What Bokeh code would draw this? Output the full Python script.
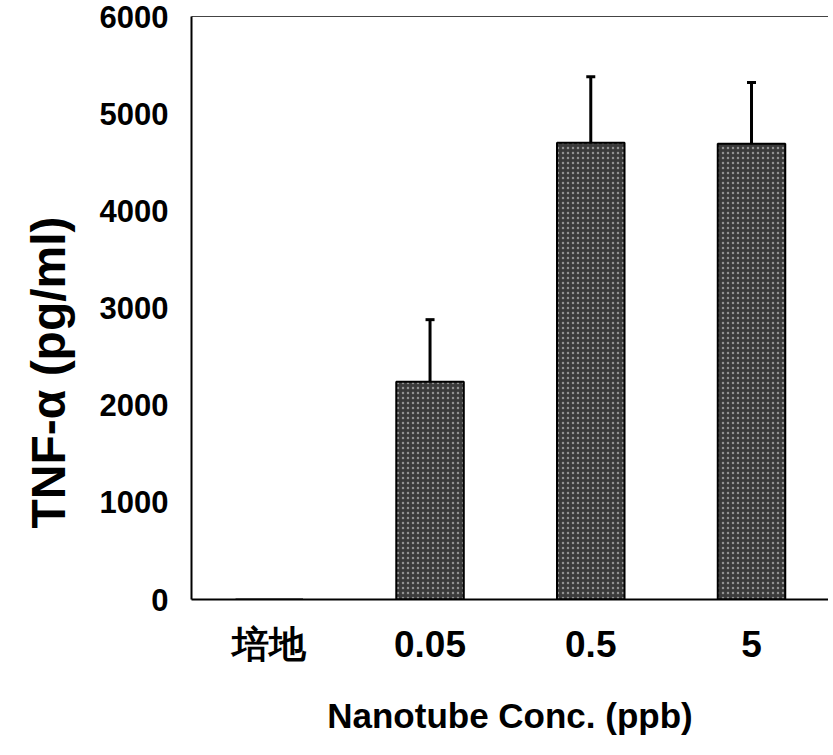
from bokeh.plotting import figure
from bokeh.models import (Range1d, FixedTicker, LinearAxis, Whisker,
                          ColumnDataSource, TeeHead, Title)
from bokeh.embed import file_html
from bokeh.resources import INLINE

# ---- data ----
categories = ["培地", "0.05", "0.5", "5"]
tnf_mean = [0, 2240, 4700, 4690]          # pg/ml
tnf_upper = [0, 2880, 5380, 5320]         # top of error bar (pg/ml)
y_ticks = [0, 1000, 2000, 3000, 4000, 5000, 6000]

x_pos = list(range(len(categories)))
bar_src = ColumnDataSource(dict(x=x_pos, top=tnf_mean))
err_idx = [i for i in x_pos if tnf_upper[i] > tnf_mean[i]]
err_src = ColumnDataSource(dict(x=[x_pos[i] for i in err_idx],
                                top=[tnf_mean[i] for i in err_idx],
                                upper=[tnf_upper[i] for i in err_idx]))

FONT = "Liberation Sans"

p = figure(width=828, height=745, output_backend="svg", toolbar_location=None,
           x_range=Range1d(-0.484, 3.479), y_range=Range1d(0, 6000),
           min_border_left=191, min_border_right=0, min_border_top=16,
           min_border_bottom=146, background_fill_color="white",
           border_fill_color="white")
p.outline_line_color = None
p.xgrid.visible = False
p.ygrid.visible = False

xa = p.below[0]
ya = p.left[0]

# top border line
top_axis = LinearAxis(ticker=FixedTicker(ticks=[]), axis_line_color="#444444",
                      axis_line_width=1, major_tick_line_color=None,
                      minor_tick_line_color=None, major_label_text_font_size="0px",
                      major_label_standoff=0, major_tick_out=0, major_tick_in=0)
p.add_layout(top_axis, "above")

p.vbar(x="x", top="top", width=0.42, source=bar_src,
       fill_color="#3a3a3a", line_color="black", line_width=2,
       hatch_pattern="dot", hatch_color="#a8a8a8", hatch_scale=5,
       hatch_weight=1.2, hatch_alpha=0.8)

whisk = Whisker(base="x", lower="top", upper="upper", source=err_src,
                line_color="black", line_width=3, lower_head=None,
                upper_head=TeeHead(size=9, line_width=3, line_color="black"))
p.add_layout(whisk)

# x axis
xa.ticker = FixedTicker(ticks=x_pos)
xa.major_label_overrides = {i: c for i, c in zip(x_pos, categories)}
xa.major_tick_line_color = None
xa.minor_tick_line_color = None
xa.major_tick_out = 0
xa.major_tick_in = 0
xa.axis_line_color = "black"
xa.axis_line_width = 2
xa.major_label_standoff = 24
xa.major_label_text_font = FONT
xa.major_label_text_font_style = "bold"
xa.major_label_text_font_size = "37px"
xa.major_label_text_color = "black"
xa.axis_label = "Nanotube Conc. (ppb)"
xa.axis_label_text_font = FONT
xa.axis_label_text_font_style = "bold"
xa.axis_label_text_font_size = "35px"
xa.axis_label_text_color = "black"
xa.axis_label_standoff = 28

# y axis
ya.ticker = FixedTicker(ticks=y_ticks)
ya.major_tick_line_color = None
ya.minor_tick_line_color = None
ya.major_tick_out = 0
ya.major_tick_in = 0
ya.axis_line_color = "black"
ya.axis_line_width = 2
ya.major_label_standoff = 23
ya.major_label_text_font = FONT
ya.major_label_text_font_style = "bold"
ya.major_label_text_font_size = "31px"
ya.major_label_text_color = "black"

# y axis title, shifted toward the bottom as in the reference
ytitle = Title(text="TNF-α (pg/ml)", align="left", offset=71,
               vertical_align="top",
               text_font=FONT, text_font_style="bold", text_font_size="48px",
               text_color="black", standoff=40)
p.add_layout(ytitle, "left")

open("out.html", "w").write(file_html(p, INLINE))
